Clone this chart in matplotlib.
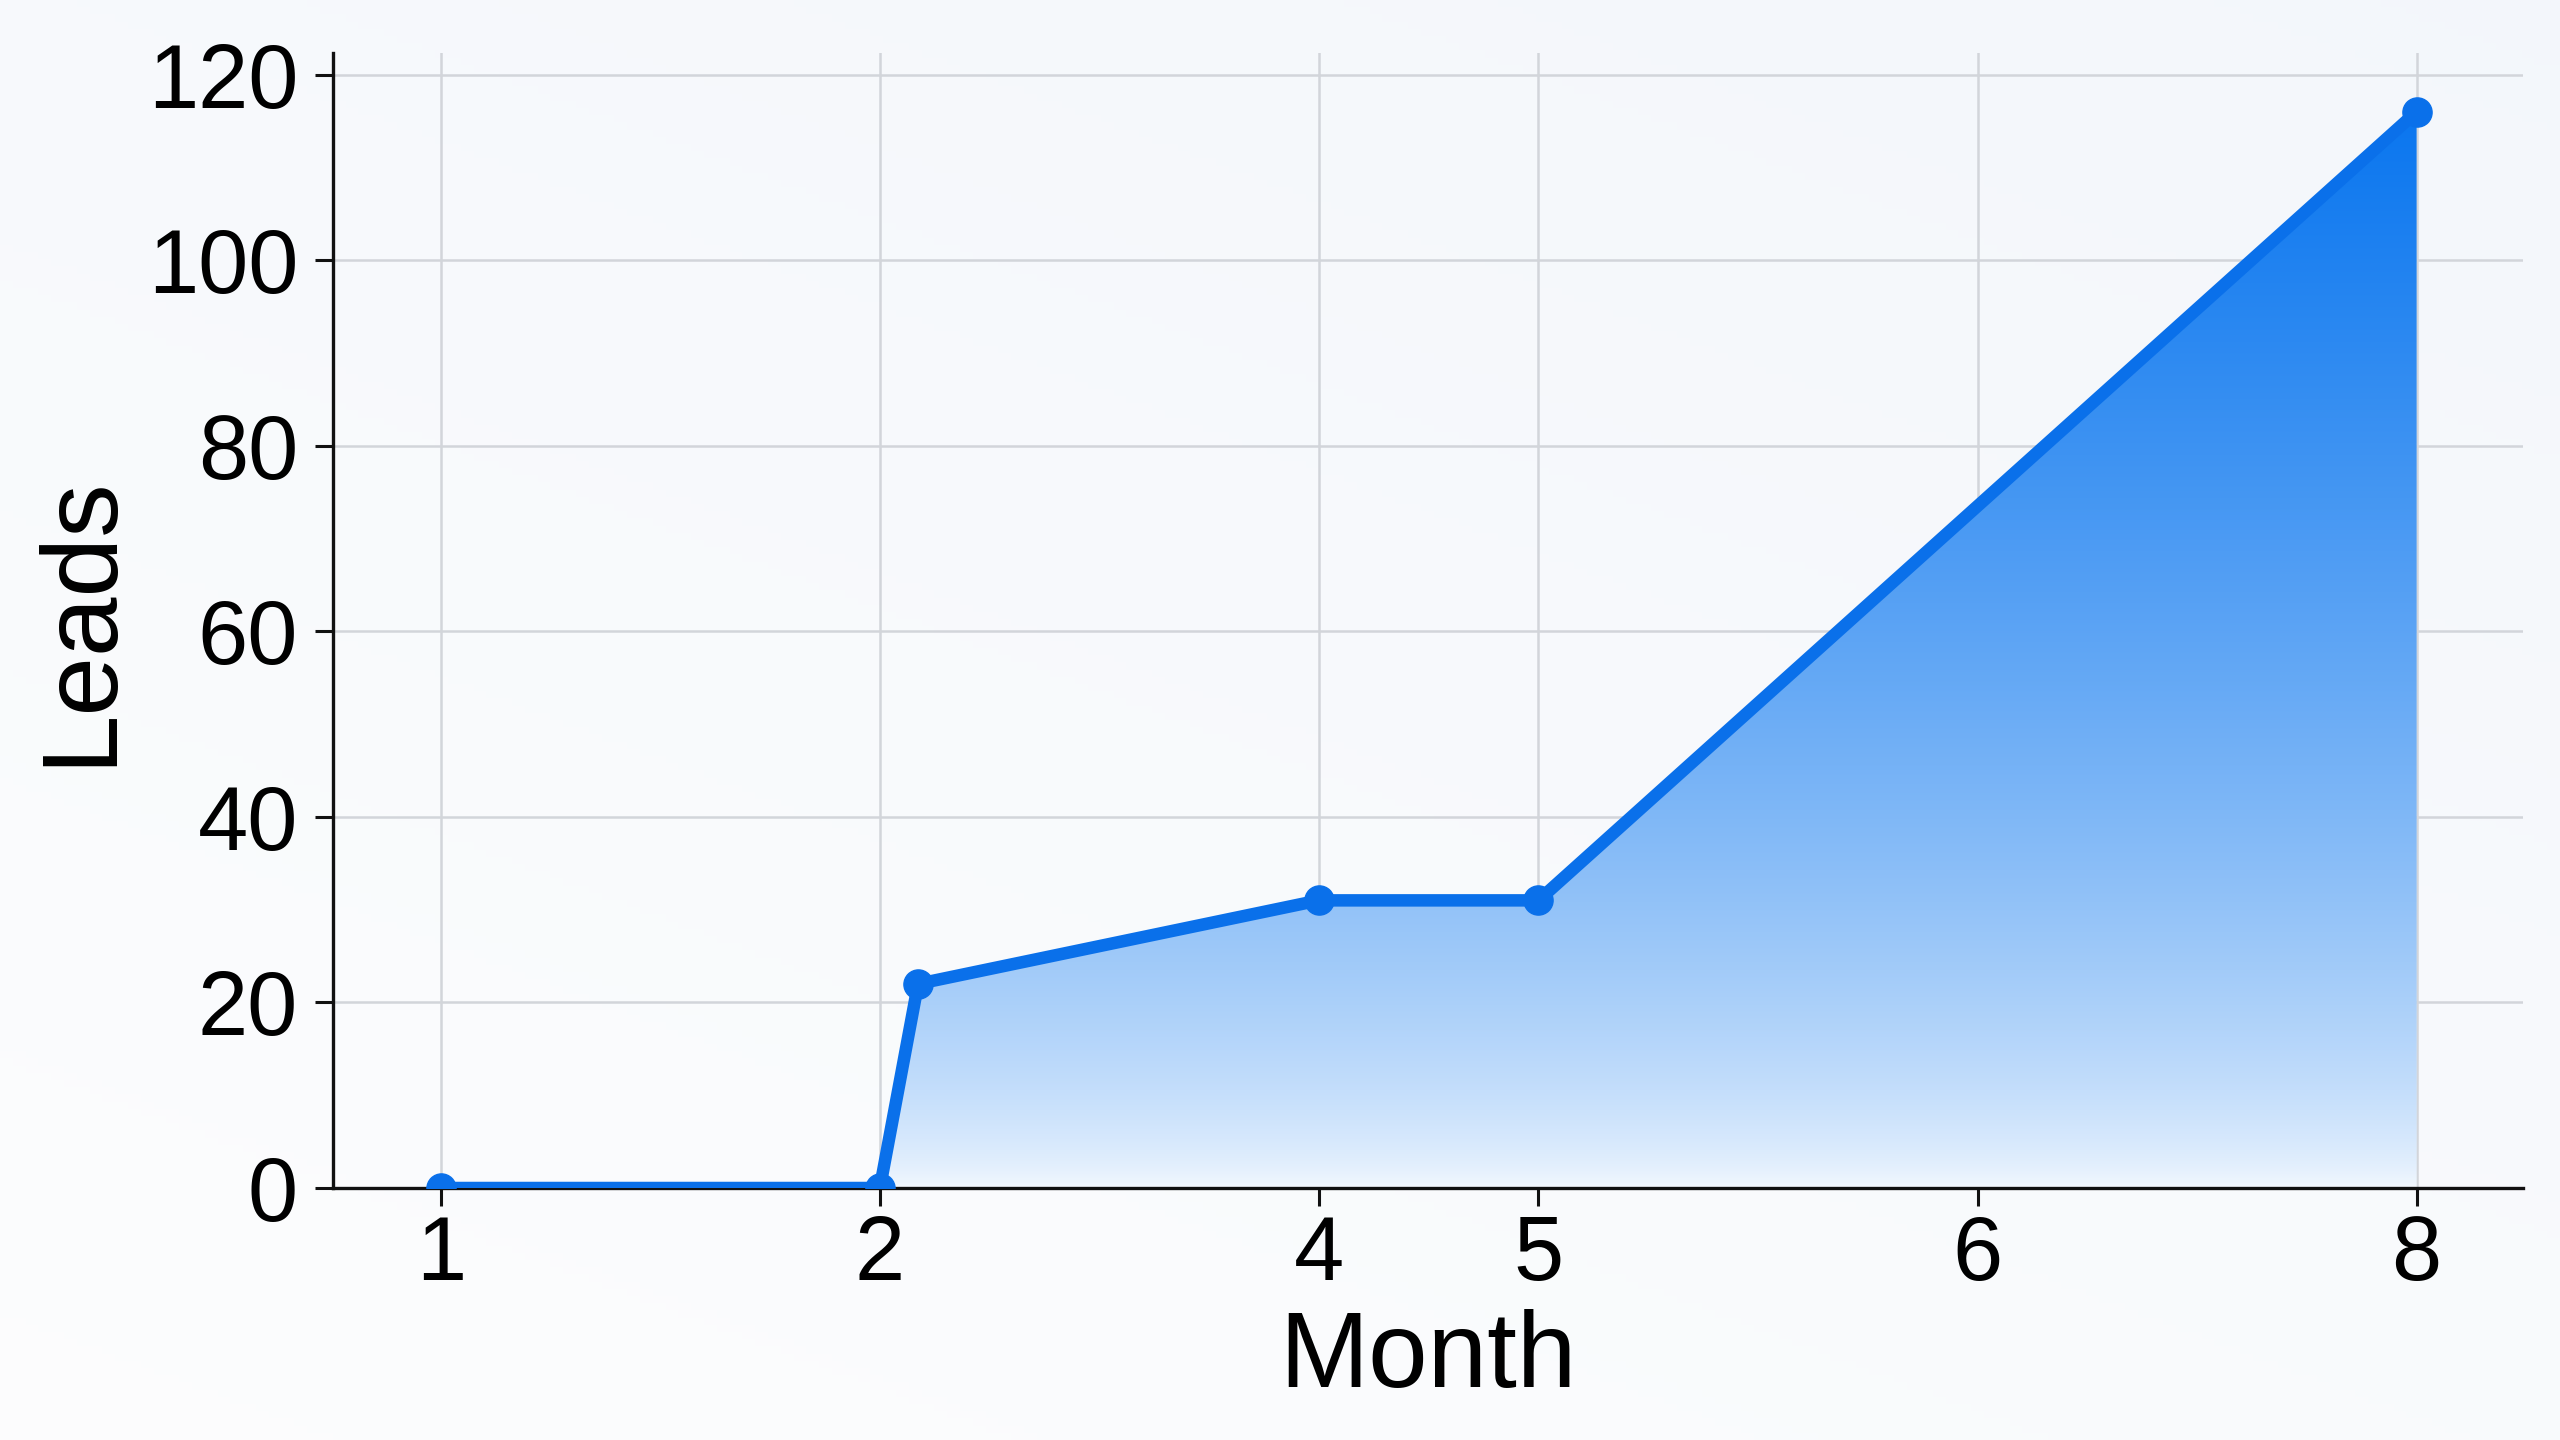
import numpy as np
import matplotlib
matplotlib.use('Agg')
import matplotlib.pyplot as plt
from matplotlib.patches import Polygon

plt.rcParams['font.family'] = ['Liberation Sans', 'DejaVu Sans']

# axis positions of the month ticks (the source chart spaces them unevenly)
month_labels = ['1', '2', '4', '5', '6', '8']
month_pos = [0, 1, 2, 2.5, 3.5, 4.5]

# series
lead_x = [0, 1, 1.087, 2, 2.5, 4.5]
leads = [0, 0, 22, 31, 31, 116]

blue = '#0a70ea'

fig = plt.figure(figsize=(25.6, 14.4), dpi=100)

# soft background gradient
bg = fig.add_axes([0, 0, 1, 1], zorder=-10)
gy, gx = np.mgrid[0:1:200j, 0:1:200j]
shade = 0.6 * gy + 0.4 * gx
c_low = np.array([0.990, 0.992, 0.995])
c_high = np.array([0.955, 0.968, 0.985])
img = c_low[None, None, :] * (1 - shade[..., None]) + c_high[None, None, :] * shade[..., None]
bg.imshow(img, origin='lower', extent=[0, 1, 0, 1], aspect='auto')
bg.axis('off')

ax = fig.add_axes([0.130, 0.175, 0.8555, 0.788])
ax.patch.set_alpha(0)

ax.set_xlim(-0.246, 4.742)
ax.set_ylim(0, 122.3)

# gradient fill under the line (starts where the series leaves zero)
fx = lead_x[1:]
fy = leads[1:]
verts = [(fx[0], 0)] + list(zip(fx, fy)) + [(fx[-1], 0)]
poly = Polygon(verts, closed=True, facecolor='none', edgecolor='none')
ax.add_patch(poly)
t = (0.04 + 0.96 * np.linspace(0, 1, 400) ** 0.65)[:, None]
c_top = np.array([0x0a, 0x76, 0xef]) / 255
c_bot = np.array([1.0, 1.0, 1.0])
rgb = c_bot[None, None, :] * (1 - t[..., None]) + c_top[None, None, :] * t[..., None]
grad = ax.imshow(rgb, origin='lower', aspect='auto',
                 extent=[fx[0], fx[-1], 0, max(fy)], zorder=2)
grad.set_clip_path(poly)

ax.plot(lead_x, leads, color=blue, lw=9, marker='o', ms=21,
        zorder=4, solid_joinstyle='round', solid_capstyle='round')

ax.set_xticks(month_pos)
ax.set_xticklabels(month_labels)
ax.set_yticks(np.arange(0, 121, 20))
ax.grid(True, color='#d2d5da', lw=1.8)
ax.set_axisbelow(True)

for s in ['top', 'right']:
    ax.spines[s].set_visible(False)
for s in ['left', 'bottom']:
    ax.spines[s].set_linewidth(2.4)
    ax.spines[s].set_color('#111111')

ax.tick_params(axis='both', labelsize=65, length=13, width=2.2, color='#111111')
ax.tick_params(axis='x', pad=6)
ax.tick_params(axis='y', pad=12)

ax.set_xlabel('Month', fontsize=77, labelpad=7)
ax.set_ylabel('Leads', fontsize=77, labelpad=12)

fig.savefig('out.png', dpi=100)
